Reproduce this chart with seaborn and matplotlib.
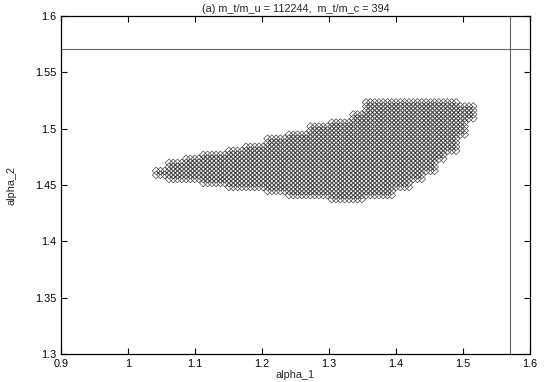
import numpy as np
import pandas as pd
import seaborn as sns
import matplotlib.pyplot as plt

# boundary of the allowed region (piecewise per x strip)
seg_x = [1.040, 1.058, 1.082, 1.110, 1.145, 1.175, 1.205, 1.240, 1.270, 1.300,
         1.330, 1.352, 1.380, 1.400, 1.420, 1.440, 1.460, 1.475, 1.490, 1.503]
seg_lo = [1.4585, 1.455, 1.452, 1.449, 1.447, 1.445, 1.443, 1.441, 1.439, 1.437,
          1.437, 1.438, 1.441, 1.446, 1.453, 1.461, 1.470, 1.480, 1.492, 1.506]
seg_hi = [1.4635, 1.470, 1.475, 1.479, 1.484, 1.487, 1.493, 1.498, 1.504, 1.509,
          1.514, 1.524, 1.524, 1.524, 1.524, 1.524, 1.524, 1.524, 1.520, 1.520]
x_end = 1.516

# scan grid steps
dx = 0.0064
dy = 0.00358

half_pi = np.pi / 2

rows = []
for xv in np.arange(seg_x[0] + 0.002, x_end, dx):
    i = np.searchsorted(seg_x, xv, side="right") - 1
    for yv in np.arange(1.4375, 1.5245, dy):
        if seg_lo[i] <= yv <= seg_hi[i]:
            rows.append((xv, yv))
df = pd.DataFrame(rows, columns=["alpha_1", "alpha_2"])

sns.set_style("ticks")
plt.rcParams["font.family"] = ["Liberation Sans", "DejaVu Sans"]

fig = plt.figure(figsize=(5.45, 3.82), dpi=100)
ax = fig.add_axes([0.112, 0.073, 0.86, 0.885])

sns.scatterplot(data=df, x="alpha_1", y="alpha_2", ax=ax, marker="D", s=15,
                facecolor="none", edgecolor="#222222", linewidth=0.4, legend=False)

ax.axhline(half_pi, color="#666666", lw=0.8)
ax.axvline(half_pi, color="#666666", lw=0.8)

ax.set_xlim(0.9, 1.6)
ax.set_ylim(1.3, 1.6)
ax.set_xticks(np.arange(0.9, 1.61, 0.1))
ax.set_xticklabels(["0.9", "1", "1.1", "1.2", "1.3", "1.4", "1.5", "1.6"])
ax.set_yticks(np.arange(1.3, 1.61, 0.05))
ax.set_yticklabels(["1.3", "1.35", "1.4", "1.45", "1.5", "1.55", "1.6"])
ax.tick_params(direction="in", top=True, right=True, length=4, width=0.8,
               labelsize=7.8, colors="black")
for s in ax.spines.values():
    s.set_linewidth(0.9)
    s.set_color("black")

ax.set_xlabel("alpha_1", fontsize=7.8, labelpad=1)
ax.set_ylabel("alpha_2", fontsize=7.8, labelpad=13)
ax.set_title("(a) m_t/m_u = 112244,  m_t/m_c = 394", fontsize=7.8, pad=3)

fig.savefig("out.png", dpi=100)
